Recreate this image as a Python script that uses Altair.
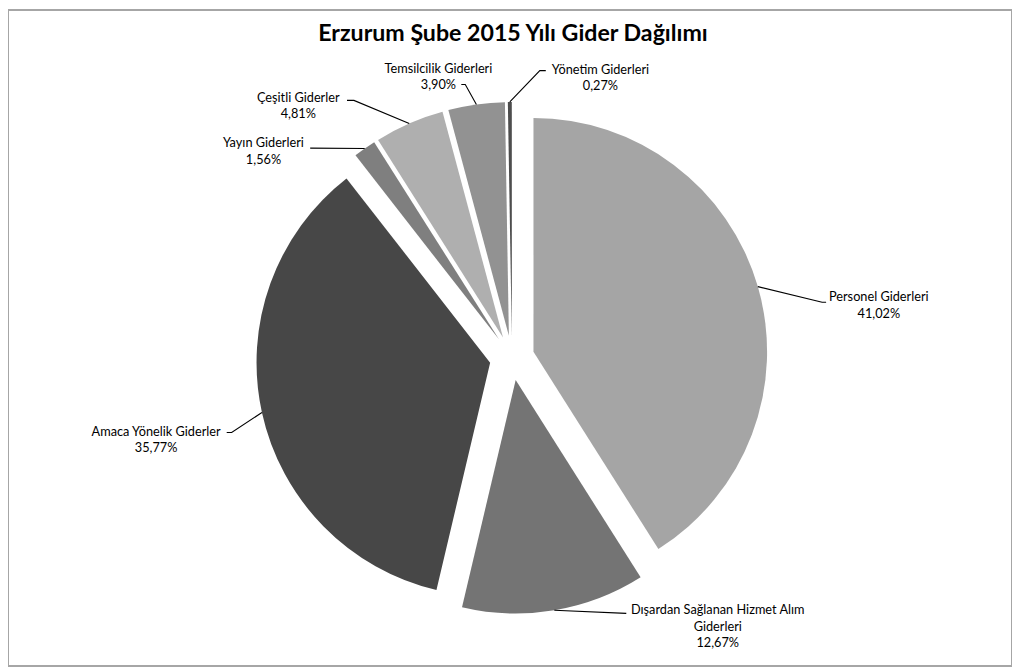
import math
import textwrap
import pandas as pd
import altair as alt

# ---- data ----
categories = [
    "Personel Giderleri",
    "Dışardan Sağlanan Hizmet Alım Giderleri",
    "Amaca Yönelik Giderler",
    "Yayın Giderleri",
    "Çeşitli Giderler",
    "Temsilcilik Giderleri",
    "Yönetim Giderleri",
]
shares = [41.02, 12.67, 35.77, 1.56, 4.81, 3.90, 0.27]
TITLE = "Erzurum Şube 2015 Yılı Gider Dağılımı"

# ---- style / layout ----
colors = ["#a5a5a5", "#747474", "#474747", "#7f7f7f", "#afafaf", "#929292", "#4d4d4d"]
W, H = 1010, 660
CX, CY = 507, 350          # pie centre (plot coords)
R = 235                    # radius
EXPLODE = 22.5             # explosion distance
FONT = "Lato"
FS = 12.8
LH = 16.5

# label block centre, relative to pie centre (manual label placement)
label_dx = [369, 207, -358, -250, -215, -74, 89]
label_dy = [-53, 270, 82, -208, -254, -283, -282]
# leader-line elbow relative to pie centre, and horizontal stub length
elbow_dx = [312, 115, -282, -203, -159, -47, 28]
elbow_dy = [-56, 257, 75, -211, -259, -275, -289]
stub = [4, 0, -5, 0, -7, -4, 6]

slices = pd.DataFrame({"cat": categories, "share": shares, "order": list(range(len(categories)))})

# label table and leader lines derived from the data
total = sum(shares)
rows_txt, rows_line = [], []
cum = 0.0
for i, (c, v) in enumerate(zip(categories, shares)):
    mid = (cum + v / 2) / total * 2 * math.pi
    cum += v
    ox = CX + EXPLODE * math.sin(mid)
    oy = CY - EXPLODE * math.cos(mid)
    ex = ox + R * math.sin(mid)
    ey = oy - R * math.cos(mid)
    lines = textwrap.wrap(c, 30) + [f"{v:.2f}".replace(".", ",") + "%"]
    n = len(lines)
    rows_txt.append({
        "cat": c,
        "label": "\n".join(lines),
        "lx": CX + label_dx[i],
        "ly": CY + label_dy[i] - (n - 1) * LH / 2 - 0.44 * FS,
    })
    bx = CX + elbow_dx[i]
    by = CY + elbow_dy[i]
    pts = [(ex, ey), (bx, by), (bx + stub[i], by)]
    for k, (px, py) in enumerate(pts):
        rows_line.append({"cat": c, "k": k, "px": px, "py": py})

labels_df = pd.DataFrame(rows_txt)
lines_df = pd.DataFrame(rows_line)

arcs = (
    alt.Chart(slices)
    .transform_window(cum="sum(share)", sort=[alt.SortField("order")])
    .transform_calculate(start="datum.cum - datum.share")
    .transform_calculate(mid="(datum.cum - datum.share / 2) / 100 * 2 * PI")
    .transform_calculate(cx=f"{CX} + {EXPLODE} * sin(datum.mid)")
    .transform_calculate(cy=f"{CY} - {EXPLODE} * cos(datum.mid)")
    .mark_arc(outerRadius=R)
    .encode(
        theta=alt.Theta("start:Q", scale=alt.Scale(domain=[0, 100], range=[0, 2 * math.pi]), stack=False),
        theta2="cum:Q",
        x=alt.X("cx:Q", scale=None),
        y=alt.Y("cy:Q", scale=None),
        color=alt.Color("cat:N", scale=alt.Scale(domain=categories, range=colors), legend=None),
    )
)

leaders = (
    alt.Chart(lines_df)
    .mark_line(color="#000000", strokeWidth=1.1)
    .encode(
        x=alt.X("px:Q", scale=None),
        y=alt.Y("py:Q", scale=None),
        detail="cat:N",
        order="k:Q",
    )
)

texts = (
    alt.Chart(labels_df)
    .mark_text(font=FONT, fontSize=FS, lineHeight=LH, align="center", baseline="top",
               lineBreak="\n", color="#000000")
    .encode(
        x=alt.X("lx:Q", scale=None),
        y=alt.Y("ly:Q", scale=None),
        text="label:N",
    )
)

title = (
    alt.Chart(pd.DataFrame({"t": [TITLE]}))
    .mark_text(font=FONT, fontSize=23.3, fontWeight="bold", align="center", baseline="middle", color="#000000")
    .encode(text="t:N", x=alt.value(CX + 1), y=alt.value(24))
)

chart = (
    alt.layer(arcs, leaders, texts, title)
    .properties(width=W, height=H, padding=0, autosize="none")
    .configure_view(stroke="#a6a6a6", strokeWidth=2)
)

chart.save("out.html", embed_options={"renderer": "svg", "actions": False})
